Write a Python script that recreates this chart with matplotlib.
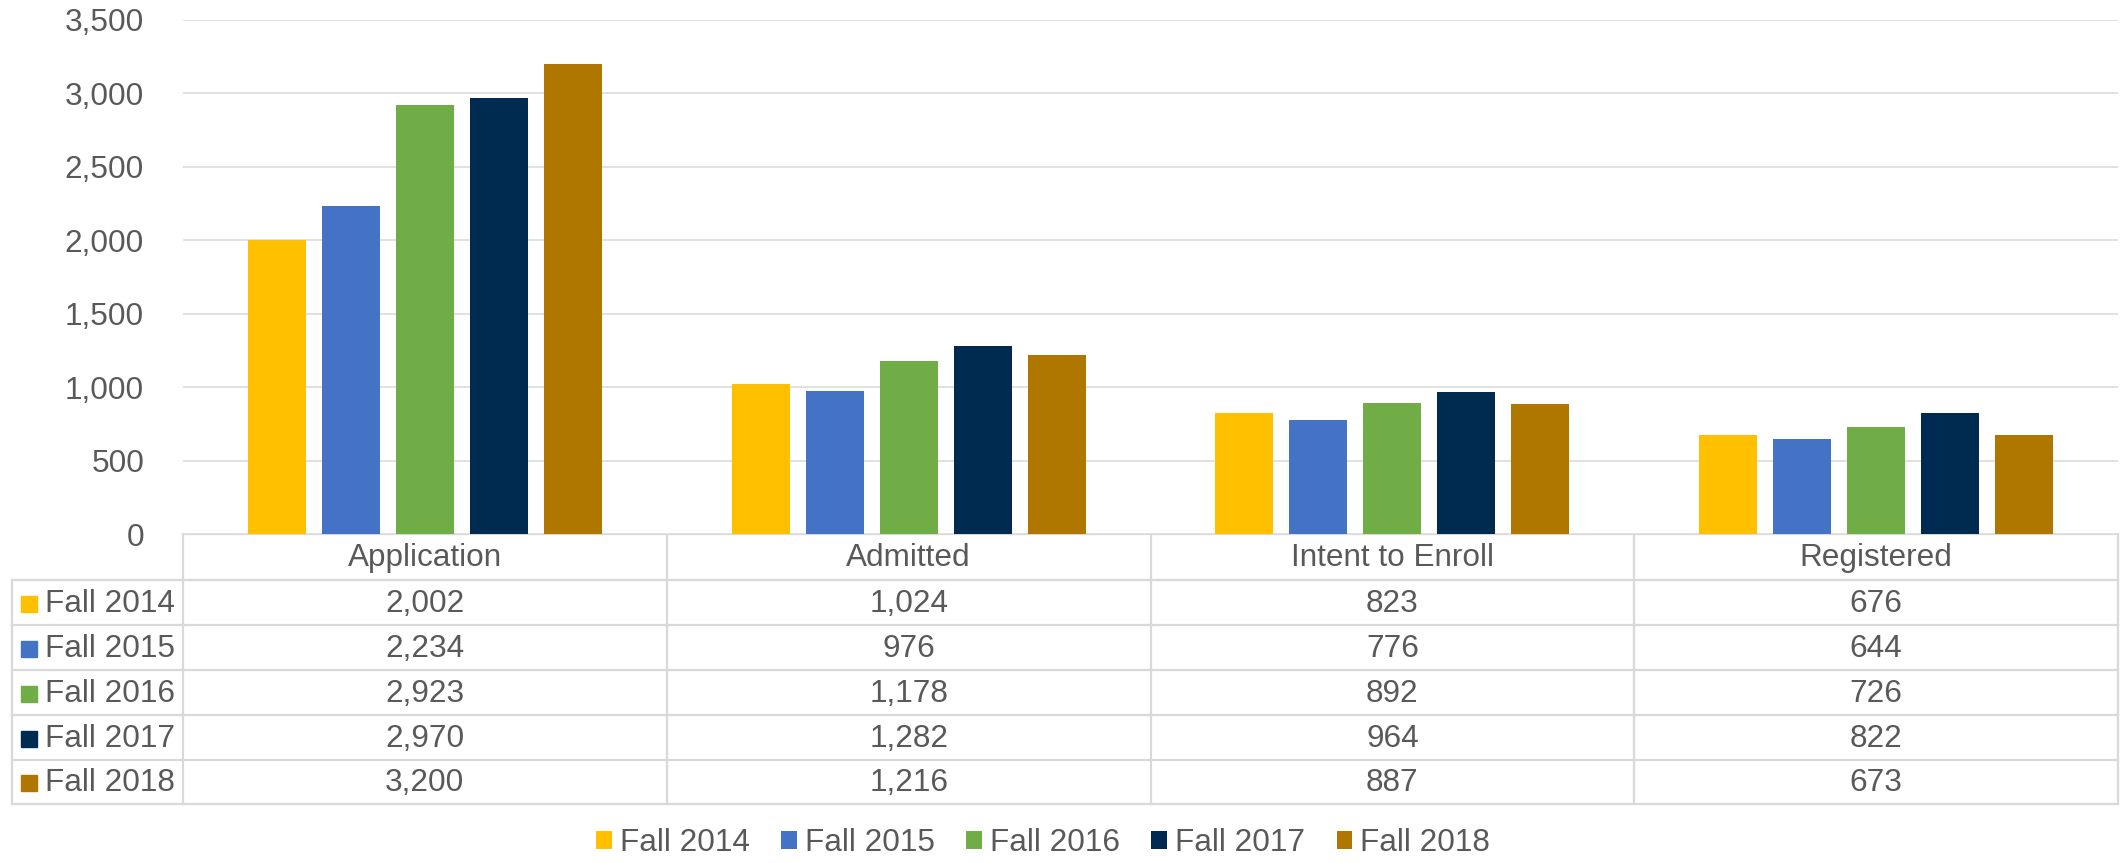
import matplotlib
matplotlib.use("Agg")
import matplotlib.pyplot as plt
from matplotlib.patches import Patch
import numpy as np

categories = ["Application", "Admitted", "Intent to Enroll", "Registered"]
series_names = ["Fall 2014", "Fall 2015", "Fall 2016", "Fall 2017", "Fall 2018"]
fall_2014 = [2002, 1024, 823, 676]
fall_2015 = [2234, 976, 776, 644]
fall_2016 = [2923, 1178, 892, 726]
fall_2017 = [2970, 1282, 964, 822]
fall_2018 = [3200, 1216, 887, 673]
series_values = [fall_2014, fall_2015, fall_2016, fall_2017, fall_2018]
colors = ["#FFC000", "#4472C4", "#70AD47", "#002B50", "#B07700"]
yticks = [0, 500, 1000, 1500, 2000, 2500, 3000, 3500]

plt.rcParams['font.family'] = ['Liberation Sans', 'DejaVu Sans']
TXT = "#595959"
GRID = "#D9D9D9"
FS = 22.7

W, H = 2123, 863
fig = plt.figure(figsize=(W / 100, H / 100), dpi=100)

# plot area in pixel coords
L, R, T, B = 183, 2118, 20, 534
ax = fig.add_axes([L / W, (H - B) / H, (R - L) / W, (B - T) / H])
n_cat = len(categories)
x = np.arange(n_cat) + 0.5
step = 74 / 484
bw = 58 / 484
for i, (name, vals, c) in enumerate(zip(series_names, series_values, colors)):
    ax.bar(x + (i - 2) * step, vals, width=bw, color=c, label=name, zorder=3)
ax.set_xlim(0, n_cat)
ax.set_ylim(0, 3500)
ax.set_yticks(yticks)
ax.set_yticklabels([f"{v:,}" for v in yticks], fontsize=FS, color=TXT)
ax.tick_params(axis='y', length=0, pad=28)
ax.set_xticks([])
ax.grid(axis='y', color=GRID, linewidth=1.1, zorder=0)
for s in ax.spines.values():
    s.set_visible(False)

# data table overlay
tab = fig.add_axes([0, 0, 1, 1], zorder=-1)
tab.set_xlim(0, W)
tab.set_ylim(H, 0)
tab.axis('off')
col_edges = np.linspace(L, R, n_cat + 1)
row_edges = [534, 580, 625, 670, 715, 760, 804]
lab_left = 12
lw = 1.6
tab.plot([L, R], [row_edges[0]] * 2, color=GRID, lw=lw)
for y in row_edges[1:]:
    tab.plot([lab_left, R], [y, y], color=GRID, lw=lw)
for xe in col_edges:
    tab.plot([xe, xe], [row_edges[0], row_edges[-1]], color=GRID, lw=lw)
tab.plot([lab_left, lab_left], [row_edges[1], row_edges[-1]], color=GRID, lw=lw)
for j, cat in enumerate(categories):
    xc = (col_edges[j] + col_edges[j + 1]) / 2
    tab.text(xc, (row_edges[0] + row_edges[1]) / 2 + 1, cat, ha='center', va='center',
             fontsize=FS, color=TXT)
for i, (name, vals, c) in enumerate(zip(series_names, series_values, colors)):
    yc = (row_edges[i + 1] + row_edges[i + 2]) / 2 + 1
    tab.add_patch(plt.Rectangle((21, yc - 8), 16, 16, color=c))
    tab.text(45, yc, name, ha='left', va='center', fontsize=FS, color=TXT)
    for j, v in enumerate(vals):
        xc = (col_edges[j] + col_edges[j + 1]) / 2
        tab.text(xc, yc, f"{v:,}", ha='center', va='center', fontsize=FS, color=TXT)

# legend
handles = [Patch(facecolor=c, label=n) for n, c in zip(series_names, colors)]
fig.legend(handles=handles, loc='center', bbox_to_anchor=(1043 / W, (H - 843) / H),
           ncol=5, frameon=False, fontsize=FS, labelcolor=TXT,
           handlelength=0.5, handleheight=0.5, handletextpad=0.25,
           columnspacing=1.0, borderpad=0, borderaxespad=0)

fig.savefig("out.png", dpi=100)
